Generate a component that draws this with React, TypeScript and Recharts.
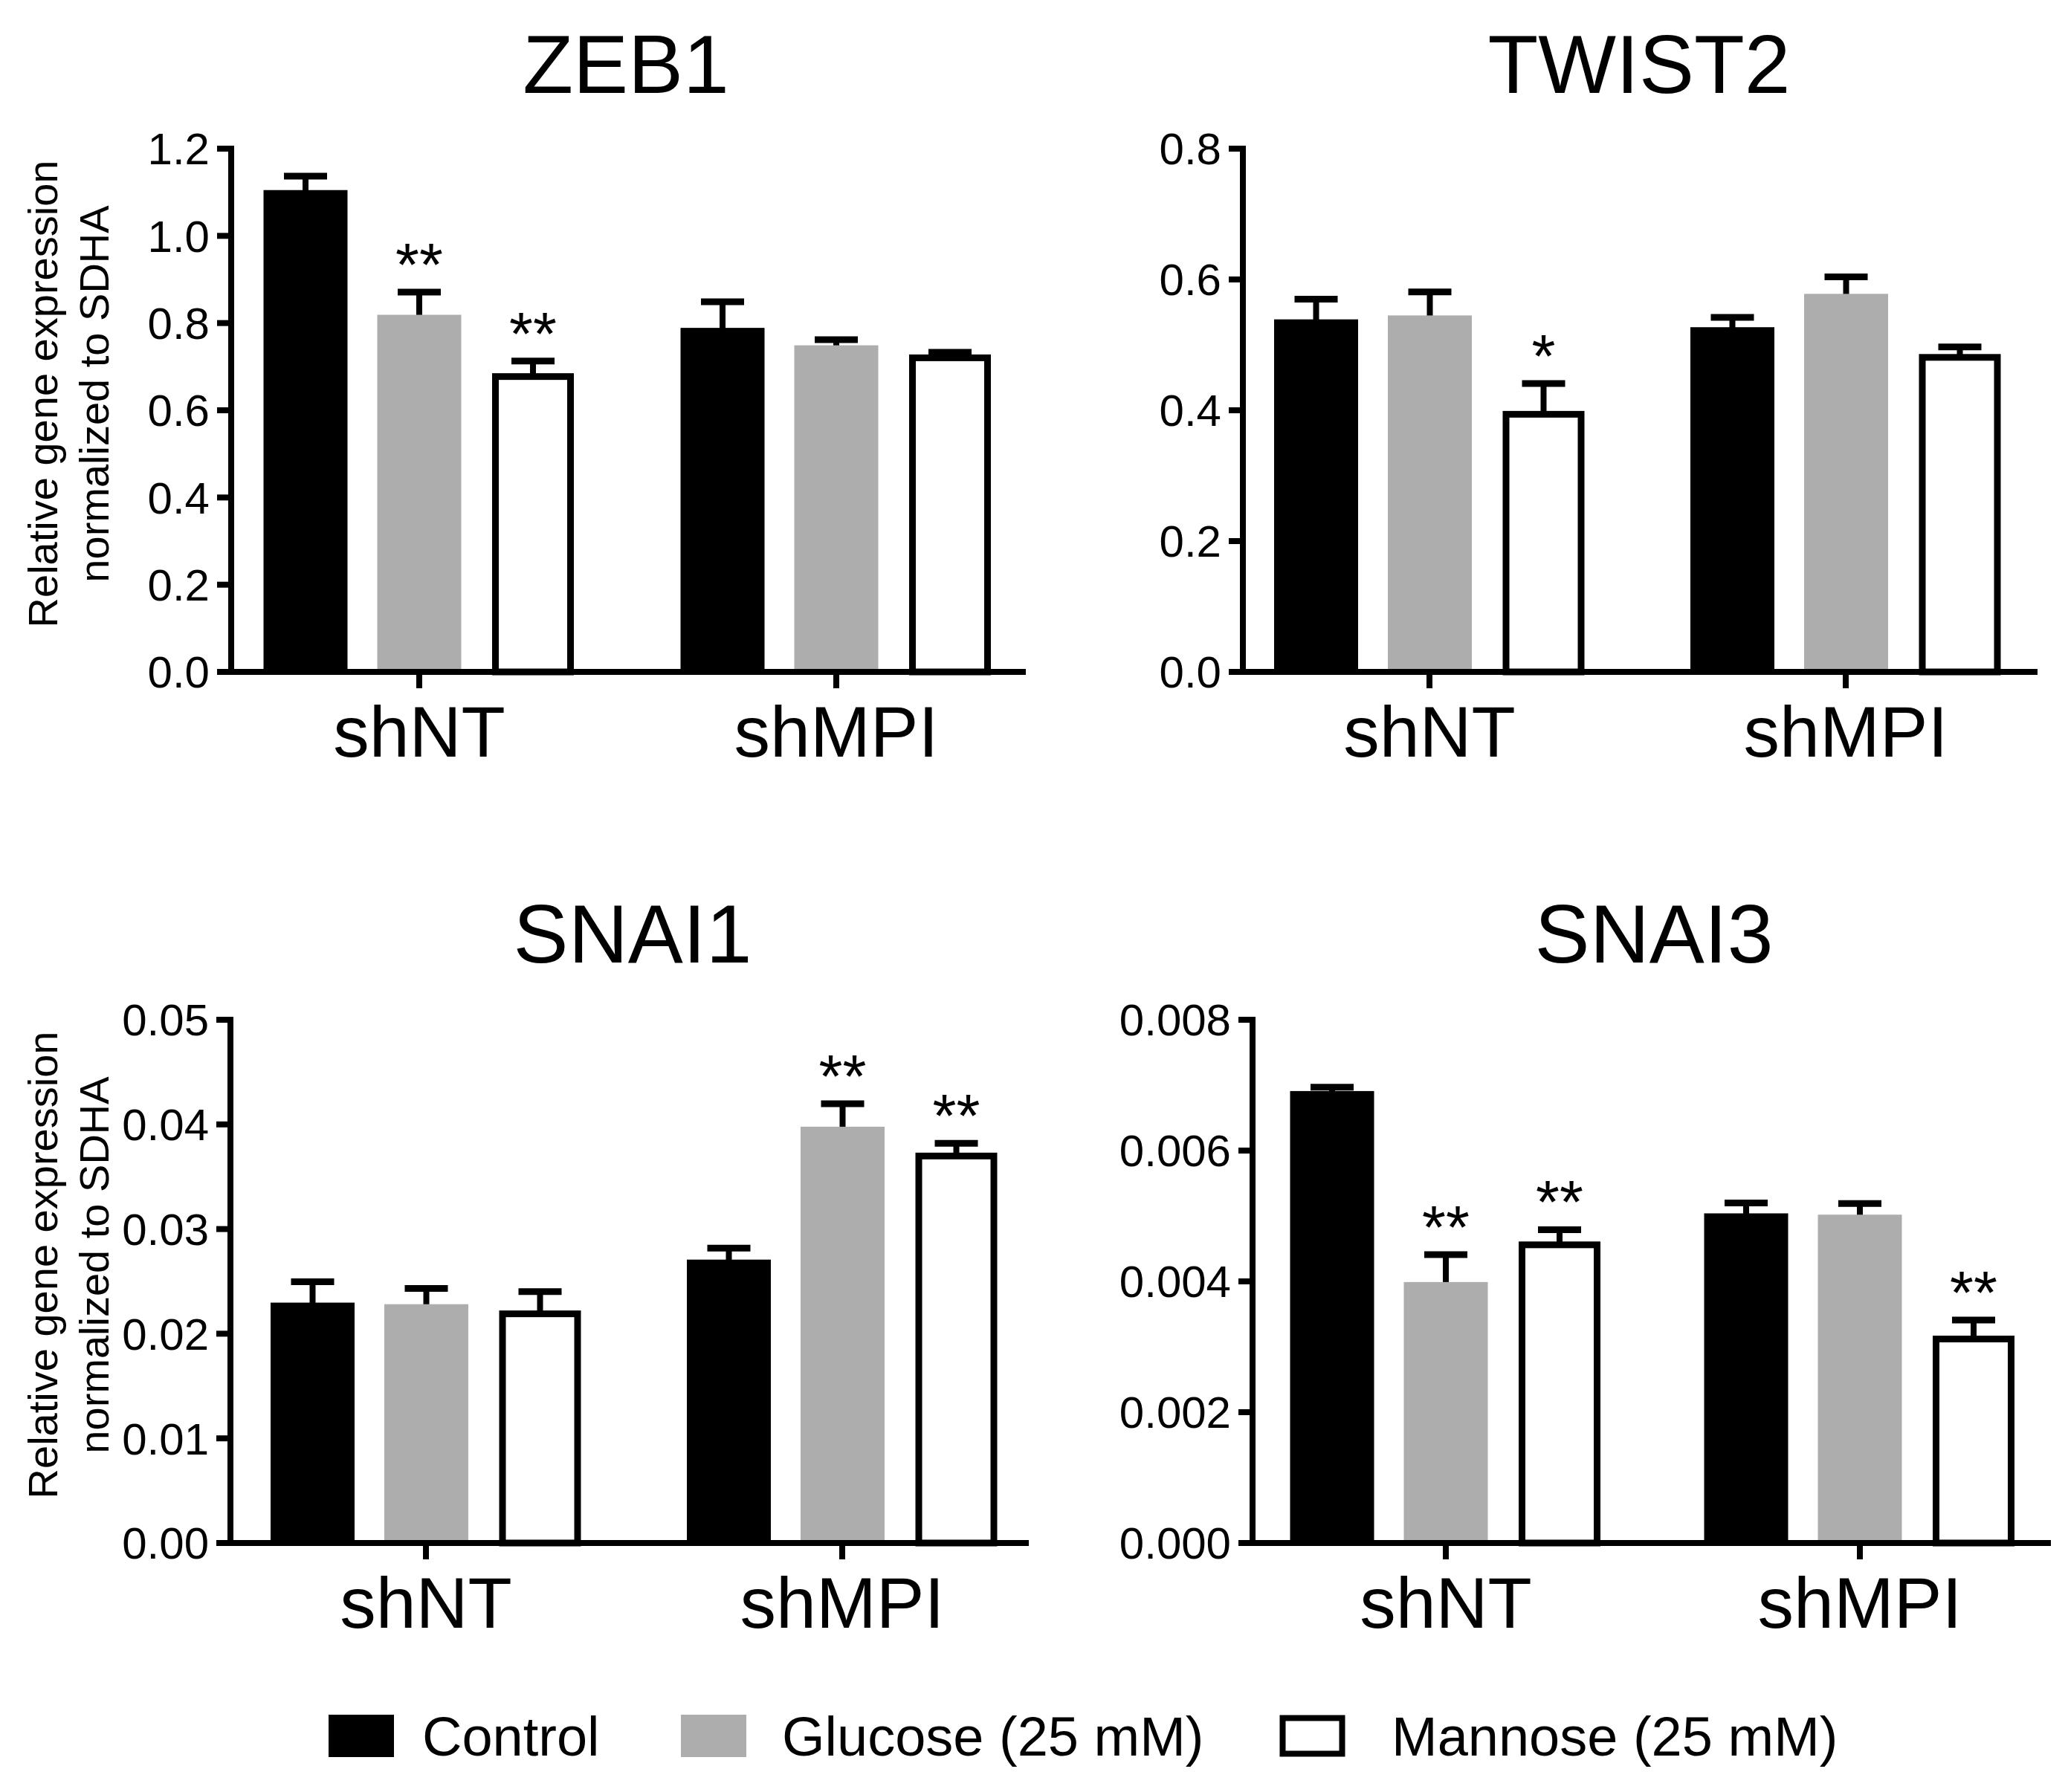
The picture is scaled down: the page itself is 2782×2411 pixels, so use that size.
import React from 'react';
import { BarChart, Bar, XAxis, YAxis } from 'recharts';

const FONT = '"Liberation Sans", Arial, Helvetica, sans-serif';

// ---------- data ----------
const categories = ['shNT', 'shMPI'];
const seriesNames = ['Control', 'Glucose (25 mM)', 'Mannose (25 mM)'];
const yLabelLines = ['Relative gene expression', 'normalized to SDHA'];

// ZEB1
const zeb1Control = [1.105, 0.789];
const zeb1ControlErr = [0.032, 0.06];
const zeb1ControlSig = ['', ''];
const zeb1Glucose = [0.819, 0.749];
const zeb1GlucoseErr = [0.052, 0.013];
const zeb1GlucoseSig = ['**', ''];
const zeb1Mannose = [0.685, 0.728];
const zeb1MannoseErr = [0.028, 0.005];
const zeb1MannoseSig = ['**', ''];
const zeb1Ticks = [0, 0.2, 0.4, 0.6, 0.8, 1.0, 1.2];

// TWIST2
const twist2Control = [0.539, 0.527];
const twist2ControlErr = [0.031, 0.015];
const twist2ControlSig = ['', ''];
const twist2Glucose = [0.545, 0.578];
const twist2GlucoseErr = [0.036, 0.026];
const twist2GlucoseSig = ['', ''];
const twist2Mannose = [0.399, 0.486];
const twist2MannoseErr = [0.042, 0.011];
const twist2MannoseSig = ['*', ''];
const twist2Ticks = [0, 0.2, 0.4, 0.6, 0.8];

// SNAI1
const snai1Control = [0.02297, 0.02708];
const snai1ControlErr = [0.002, 0.0011];
const snai1ControlSig = ['', ''];
const snai1Glucose = [0.02282, 0.03978];
const snai1GlucoseErr = [0.0015, 0.0022];
const snai1GlucoseSig = ['', '**'];
const snai1Mannose = [0.02222, 0.0373];
const snai1MannoseErr = [0.0018, 0.0009];
const snai1MannoseSig = ['', '**'];
const snai1Ticks = [0, 0.01, 0.02, 0.03, 0.04, 0.05];

// SNAI3
const snai3Control = [0.00691, 0.00504];
const snai3ControlErr = [0.00006, 0.00016];
const snai3ControlSig = ['', ''];
const snai3Glucose = [0.00399, 0.00502];
const snai3GlucoseErr = [0.00042, 0.00017];
const snai3GlucoseSig = ['**', ''];
const snai3Mannose = [0.00461, 0.00317];
const snai3MannoseErr = [0.00018, 0.00024];
const snai3MannoseSig = ['**', '**'];
const snai3Ticks = [0, 0.002, 0.004, 0.006, 0.008];

// ---------- helpers ----------
function buildRows(c, ce, cs, g, ge, gs, m, me, ms) {
  return categories.map((cat, i) => ({
    cat,
    c: c[i], ce: ce[i], cs: cs[i],
    g: g[i], ge: ge[i], gs: gs[i],
    m: m[i], me: me[i], ms: ms[i],
  }));
}

const GRAY = '#adadad';

const makeShape = (valKey: string, errKey: string, sigKey: string, fill: string, outlined: boolean) =>
  (props: any) => {
    const { x, y, width, height, payload } = props;
    if (!payload || height == null) return <g />;
    const val = payload[valKey];
    const ppu = val > 0 ? height / val : 0;
    const errPx = (payload[errKey] || 0) * ppu;
    const cx = x + width / 2;
    const capY = y - errPx;
    const sig = payload[sigKey];
    return (
      <g>
        <line x1={cx} x2={cx} y1={y + 4} y2={capY} stroke="#000" strokeWidth={8} />
        <line x1={cx - 29} x2={cx + 29} y1={capY} y2={capY} stroke="#000" strokeWidth={9} />
        {outlined ? (
          <rect x={x + 6} y={y + 4.5} width={width - 12} height={Math.max(0, height - 4.5)}
            fill="#ffffff" stroke="#000" strokeWidth={9} />
        ) : (
          <rect x={x} y={y} width={width} height={height} fill={fill} />
        )}
        {sig ? (
          <text x={cx} y={capY - 9} textAnchor="middle" fontSize={82} fontFamily={FONT} fill="#000">
            {sig}
          </text>
        ) : null}
      </g>
    );
  };

const ctrlShape = makeShape('c', 'ce', 'cs', '#000000', false);
const gluShape = makeShape('g', 'ge', 'gs', GRAY, false);
const manShape = makeShape('m', 'me', 'ms', '#ffffff', true);

type PanelCfg = {
  left: number; top: number; width: number; height: number;
  axisX: number; plotTop: number; plotBottom: number; plotRight: number;
  cat1: number; cat2: number;
  rows: any[]; ticks: number[]; digits: number;
};

function Panel({ cfg }: { cfg: PanelCfg }) {
  const { left, top, width, height, axisX, plotTop, plotBottom, plotRight, cat1, cat2, rows, ticks, digits } = cfg;
  const yw = axisX - left;
  const band = cat2 - cat1;
  const padL = (cat1 - axisX) - band / 2;
  const padR = (plotRight - cat2) - band / 2;
  const xh = 150;
  const margin = {
    top: plotTop - top,
    right: left + width - plotRight,
    bottom: top + height - plotBottom - xh,
    left: 0,
  };
  const axisLine = { stroke: '#000', strokeWidth: 8, strokeLinecap: 'square' as const };
  const tickLine = { stroke: '#000', strokeWidth: 8 };
  return (
    <div style={{ position: 'absolute', left, top, width, height }}>
      <BarChart width={width} height={height} data={rows} margin={margin} barGap={40} barSize={113}>
        <XAxis
          dataKey="cat"
          height={xh}
          interval={0}
          padding={{ left: padL, right: padR }}
          axisLine={axisLine}
          tickLine={tickLine}
          tickSize={22}
          tickMargin={23}
          tick={{ fontSize: 97, fill: '#000', fontFamily: FONT }}
        />
        <YAxis
          type="number"
          width={yw}
          domain={[0, ticks[ticks.length - 1]]}
          ticks={ticks}
          interval={0}
          axisLine={axisLine}
          tickLine={tickLine}
          tickSize={19}
          tickMargin={10}
          tickFormatter={(v: number) => v.toFixed(digits)}
          tick={{ fontSize: 60, fill: '#000', fontFamily: FONT }}
        />
        <Bar dataKey="c" name={seriesNames[0]} fill="#000" shape={ctrlShape} isAnimationActive={false} />
        <Bar dataKey="g" name={seriesNames[1]} fill={GRAY} shape={gluShape} isAnimationActive={false} />
        <Bar dataKey="m" name={seriesNames[2]} fill="#fff" shape={manShape} isAnimationActive={false} />
      </BarChart>
    </div>
  );
}

const panels: { title: string; titleX: number; titleY: number; labelY: number | null; cfg: PanelCfg }[] = [
  {
    title: 'ZEB1', titleX: 842, titleY: 125, labelY: 530,
    cfg: {
      left: 0, top: 0, width: 1391, height: 1150,
      axisX: 311, plotTop: 200, plotBottom: 904, plotRight: 1376, cat1: 564, cat2: 1125,
      rows: buildRows(zeb1Control, zeb1ControlErr, zeb1ControlSig, zeb1Glucose, zeb1GlucoseErr, zeb1GlucoseSig, zeb1Mannose, zeb1MannoseErr, zeb1MannoseSig),
      ticks: zeb1Ticks, digits: 1,
    },
  },
  {
    title: 'TWIST2', titleX: 2205, titleY: 125, labelY: null,
    cfg: {
      left: 1391, top: 0, width: 1391, height: 1150,
      axisX: 1672, plotTop: 200, plotBottom: 904, plotRight: 2737, cat1: 1923, cat2: 2483,
      rows: buildRows(twist2Control, twist2ControlErr, twist2ControlSig, twist2Glucose, twist2GlucoseErr, twist2GlucoseSig, twist2Mannose, twist2MannoseErr, twist2MannoseSig),
      ticks: twist2Ticks, digits: 1,
    },
  },
  {
    title: 'SNAI1', titleX: 851, titleY: 1295, labelY: 1702,
    cfg: {
      left: 0, top: 1150, width: 1391, height: 1100,
      axisX: 310, plotTop: 1372, plotBottom: 2076, plotRight: 1380, cat1: 573, cat2: 1133,
      rows: buildRows(snai1Control, snai1ControlErr, snai1ControlSig, snai1Glucose, snai1GlucoseErr, snai1GlucoseSig, snai1Mannose, snai1MannoseErr, snai1MannoseSig),
      ticks: snai1Ticks, digits: 2,
    },
  },
  {
    title: 'SNAI3', titleX: 2225, titleY: 1295, labelY: null,
    cfg: {
      left: 1391, top: 1150, width: 1391, height: 1100,
      axisX: 1685, plotTop: 1372, plotBottom: 2076, plotRight: 2755, cat1: 1945, cat2: 2502,
      rows: buildRows(snai3Control, snai3ControlErr, snai3ControlSig, snai3Glucose, snai3GlucoseErr, snai3GlucoseSig, snai3Mannose, snai3MannoseErr, snai3MannoseSig),
      ticks: snai3Ticks, digits: 3,
    },
  },
];

const legendItems = [
  { name: seriesNames[0], boxX: 442, textX: 568, fill: '#000', outlined: false },
  { name: seriesNames[1], boxX: 916, textX: 1052, fill: GRAY, outlined: false },
  { name: seriesNames[2], boxX: 1721, textX: 1872, fill: '#fff', outlined: true },
];

export default function App() {
  return (
    <div style={{ position: 'absolute', left: 0, top: 0, width: 2782, height: 2411, background: '#fff' }}>
      {panels.map((p) => (
        <Panel key={p.title} cfg={p.cfg} />
      ))}
      <svg width={2782} height={2411} style={{ position: 'absolute', left: 0, top: 0, pointerEvents: 'none' }}>
        {panels.map((p) => (
          <text key={'t' + p.title} x={p.titleX} y={p.titleY} textAnchor="middle" fontSize={111} fontFamily={FONT} fill="#000">
            {p.title}
          </text>
        ))}
        {panels.filter((p) => p.labelY != null).map((p) => (
          <g key={'l' + p.title}>
            <text transform={`translate(77, ${p.labelY}) rotate(-90)`} textAnchor="middle" fontSize={56} fontFamily={FONT} fill="#000">
              {yLabelLines[0]}
            </text>
            <text transform={`translate(146, ${p.labelY}) rotate(-90)`} textAnchor="middle" fontSize={56} fontFamily={FONT} fill="#000">
              {yLabelLines[1]}
            </text>
          </g>
        ))}
        {legendItems.map((it) => (
          <g key={it.name}>
            {it.outlined ? (
              <rect x={it.boxX + 4.5} y={2307 + 4.5} width={89 - 9} height={57 - 9} fill="#fff" stroke="#000" strokeWidth={8} />
            ) : (
              <rect x={it.boxX} y={2307} width={88} height={57} fill={it.fill} />
            )}
            <text x={it.textX} y={2362} fontSize={74} fontFamily={FONT} fill="#000">
              {it.name}
            </text>
          </g>
        ))}
      </svg>
    </div>
  );
}
